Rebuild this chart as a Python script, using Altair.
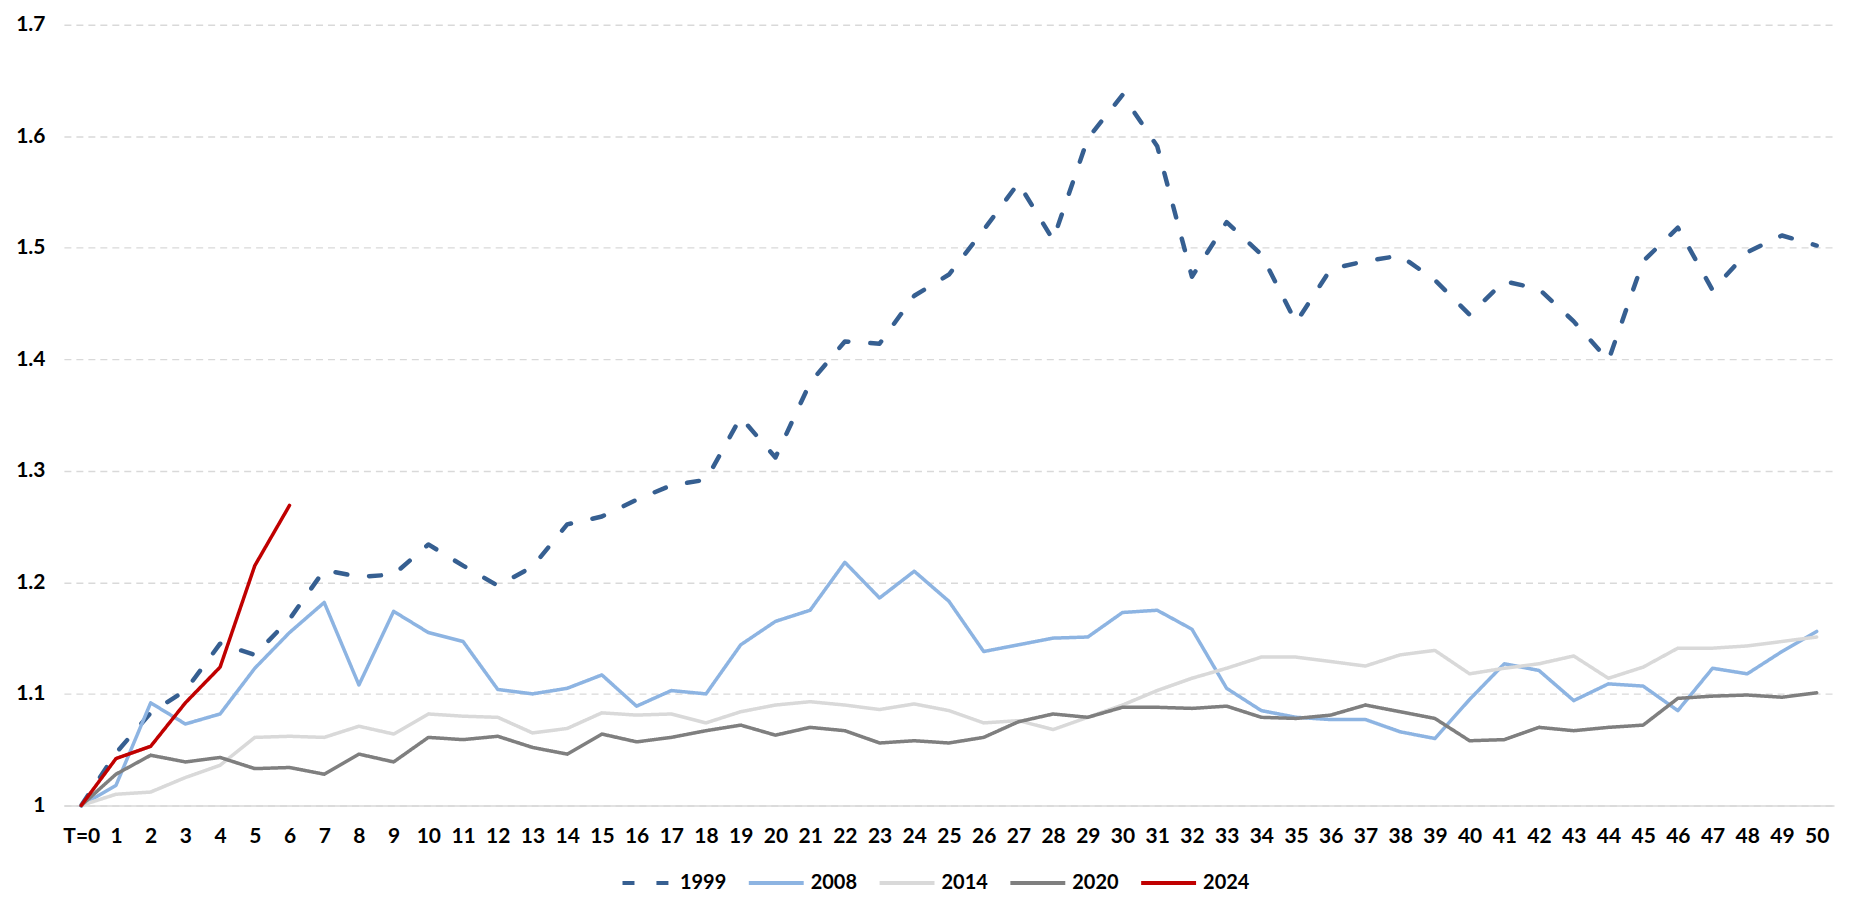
import json
import altair as alt
import pandas as pd

periods = list(range(51))
tick_labels = ["T=0"] + [str(i) for i in range(1, 51)]
series_names = ["1999", "2008", "2014", "2020", "2024"]

s1999 = [1.000, 1.047, 1.083, 1.103, 1.145, 1.135, 1.167, 1.211, 1.205, 1.207,
         1.234, 1.215, 1.197, 1.214, 1.252, 1.259, 1.274, 1.287, 1.292, 1.348,
         1.312, 1.379, 1.416, 1.414, 1.457, 1.476, 1.516, 1.558, 1.507, 1.598,
         1.637, 1.591, 1.474, 1.523, 1.494, 1.433, 1.481, 1.488, 1.493, 1.471,
         1.440, 1.470, 1.463, 1.434, 1.399, 1.488, 1.518, 1.462, 1.496, 1.511,
         1.502]
s2008 = [1.000, 1.018, 1.092, 1.073, 1.082, 1.123, 1.155, 1.182, 1.108, 1.174,
         1.155, 1.147, 1.104, 1.100, 1.105, 1.117, 1.089, 1.103, 1.100, 1.144,
         1.165, 1.175, 1.218, 1.186, 1.210, 1.183, 1.138, 1.144, 1.150, 1.151,
         1.173, 1.175, 1.158, 1.105, 1.085, 1.079, 1.077, 1.077, 1.066, 1.060,
         1.095, 1.127, 1.121, 1.094, 1.109, 1.107, 1.085, 1.123, 1.118, 1.138,
         1.156]
s2014 = [1.000, 1.010, 1.012, 1.025, 1.036, 1.061, 1.062, 1.061, 1.071, 1.064,
         1.082, 1.080, 1.079, 1.065, 1.069, 1.083, 1.081, 1.082, 1.074, 1.084,
         1.090, 1.093, 1.090, 1.086, 1.091, 1.085, 1.074, 1.076, 1.068, 1.079,
         1.090, 1.103, 1.114, 1.123, 1.133, 1.133, 1.129, 1.125, 1.135, 1.139,
         1.118, 1.123, 1.127, 1.134, 1.114, 1.124, 1.141, 1.141, 1.143, 1.147,
         1.151]
s2020 = [1.000, 1.028, 1.045, 1.039, 1.043, 1.033, 1.034, 1.028, 1.046, 1.039,
         1.061, 1.059, 1.062, 1.052, 1.046, 1.064, 1.057, 1.061, 1.067, 1.072,
         1.063, 1.070, 1.067, 1.056, 1.058, 1.056, 1.061, 1.075, 1.082, 1.079,
         1.088, 1.088, 1.087, 1.089, 1.079, 1.078, 1.081, 1.090, 1.084, 1.078,
         1.058, 1.059, 1.070, 1.067, 1.070, 1.072, 1.096, 1.098, 1.099, 1.097,
         1.101]
s2024 = [1.000, 1.042, 1.053, 1.092, 1.124, 1.215, 1.269]

y_ticks = [1.0, 1.1, 1.2, 1.3, 1.4, 1.5, 1.6, 1.7]

colors = ["#365F91", "#8DB4E2", "#D9D9D9", "#7F7F7F", "#C00000"]
dashes = [[12, 22], [1, 0], [1, 0], [1, 0], [1, 0]]
widths = [4.5, 3.5, 3.5, 3.5, 3.5]

rows = []
for name, vals in zip(series_names, [s1999, s2008, s2014, s2020, s2024]):
    for i, v in enumerate(vals):
        rows.append({"t": periods[i], "value": v, "series": name})
df = pd.DataFrame(rows)

FONT = "Lato"

x_enc = alt.X(
    "t:Q",
    scale=alt.Scale(domain=[-0.5, 50.5], nice=False, zero=False),
    axis=alt.Axis(
        values=periods,
        labelExpr=json.dumps(tick_labels) + "[datum.value]",
        grid=False, ticks=False, domain=True,
        domainColor="#D9D9D9", domainWidth=1.5,
        title=None, labelPadding=20, labelFlush=False, labelOverlap=False,
    ),
)
y_enc = alt.Y(
    "value:Q",
    scale=alt.Scale(domain=[1.0, 1.7], nice=False, zero=False),
    axis=alt.Axis(
        values=y_ticks, format="~g", grid=True, gridColor="#D9D9D9",
        gridDash=[7, 5], gridWidth=1.4, ticks=False, domain=False,
        title=None, labelPadding=19,
    ),
)
legend = alt.Legend(
    title=None, orient="none", direction="horizontal",
    legendX=553, legendY=830, symbolType="stroke", symbolSize=3025,
    symbolStrokeWidth=4, symbolDashOffset=29.5, columnPadding=14, labelOffset=5,
)
color_enc = alt.Color("series:N", scale=alt.Scale(domain=series_names, range=colors), legend=legend)
dash_enc = alt.StrokeDash("series:N", scale=alt.Scale(domain=series_names, range=dashes), legend=legend)

layers = []
for name, w in zip(series_names, widths):
    layers.append(
        alt.Chart(df)
        .transform_filter(alt.datum.series == name)
        .mark_line(strokeWidth=w, strokeCap="round", strokeJoin="round")
        .encode(x=x_enc, y=y_enc, color=color_enc, strokeDash=dash_enc)
    )

chart = (
    alt.layer(*layers)
    .properties(
        width=1773, height=782,
        autosize=alt.AutoSizeParams(type="none"),
        padding={"left": 56, "top": 16, "right": 20, "bottom": 100},
    )
    .configure_view(stroke=None)
    .configure_axis(labelFont=FONT, labelFontSize=21, labelFontWeight="bold", labelColor="#000000")
    .configure_legend(labelFont=FONT, labelFontSize=20, labelFontWeight="bold", labelColor="#000000", padding=0)
)

chart.save("out.html", embed_options={"renderer": "svg", "actions": False})
